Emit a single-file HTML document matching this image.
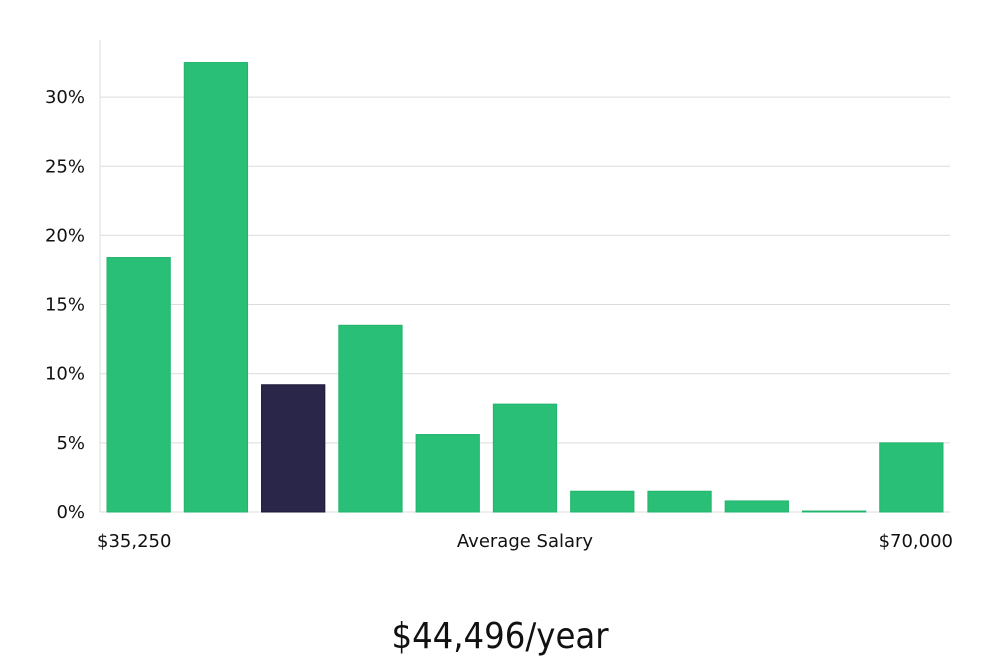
<!DOCTYPE html>
<html><head><meta charset="utf-8"><style>
body{margin:0;background:#fff;width:1000px;height:660px;overflow:hidden;font-family:"DejaVu Sans","Liberation Sans",sans-serif}
</style></head><body>
<svg width="1000" height="660" id="chart">
<g id="grid"></g><g id="bars"></g><g id="labels"></g>
<text x="500" y="648" text-anchor="middle" font-size="36" fill="#111" font-family="'DejaVu Sans Condensed','DejaVu Sans',sans-serif" font-weight="200">$44,496/year</text>
</svg>
<script>
const categories=["b1","b2","b3","b4","b5","b6","b7","b8","b9","b10","b11"];
const values=[18.4,32.5,9.2,13.5,5.6,7.8,1.5,1.5,0.8,0.07,5.0];
const highlightIndex=[2];
const yTicks=[0,5,10,15,20,25,30];
const xLabels=["$35,250","Average Salary","$70,000"];
const NS="http://www.w3.org/2000/svg";
const x0=100,x1=950,yBase=512,pxPer=13.83;
const y=v=>yBase-v*pxPer;
const slot=(x1-x0)/categories.length;
const xs=i=>x0+i*slot;
function mk(t,a,p){const e=document.createElementNS(NS,t);for(const k in a)e.setAttribute(k,a[k]);p.appendChild(e);return e;}
const g=document.getElementById('grid'),b=document.getElementById('bars'),l=document.getElementById('labels');
const ax=mk('line',{x1:x0,x2:x0,y1:40,y2:yBase,stroke:'#ddd'},g);


yTicks.forEach(t=>{
 const ln=mk('line',{x1:x0,x2:x1,y1:y(t),y2:y(t),stroke:'#dcdcdc'},g);
 
 
 const tx=mk('text',{x:85,y:y(t)+6,'text-anchor':'end','font-size':18,fill:'#111'},l);
 tx.textContent=t+'%';
 
 
});
values.forEach((v,i)=>{
 const hi=highlightIndex.includes(i);
 const r=mk('rect',{x:xs(i)+7,y:y(v),width:slot-14,height:v*pxPer,fill:hi?'#29264a':'#2abf77',stroke:hi?'#1b1838':'#22b46c','stroke-width':1},b);
 
 
});
const xl=[[97,'start'],[525,'middle'],[953,'end']];
xLabels.forEach((s,i)=>{
 const tx=mk('text',{x:xl[i][0],y:547,'text-anchor':xl[i][1],'font-size':18,fill:'#111'},l);
 tx.textContent=s;
 
 
});
</script>
</body></html>
